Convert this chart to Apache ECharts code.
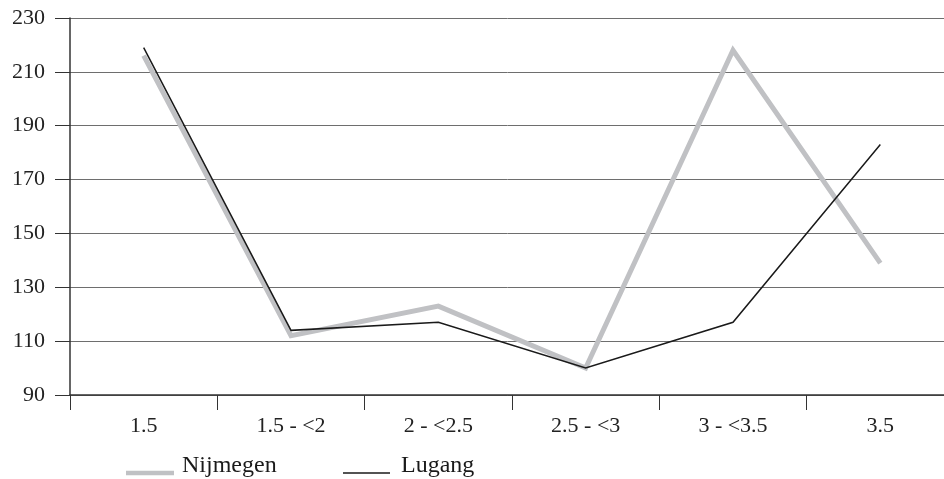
<!DOCTYPE html>
<html>
<head>
<meta charset="utf-8">
<script src="https://cdn.jsdelivr.net/npm/echarts@6/dist/echarts.min.js"></script>
<style>
  html, body { margin: 0; padding: 0; background: #fff; }
  #chart { width: 944px; height: 479px; }
</style>
</head>
<body>
<div id="chart"></div>
<script>
// Size classes along the category axis
const categories = ['1.5', '1.5 - <2', '2 - <2.5', '2.5 - <3', '3 - <3.5', '3.5'];
// Values per city
const nijmegen = [216, 112, 123, 100, 218, 139];
const lugang = [219, 114, 117, 100, 117, 183];
// Value axis range
const yMin = 90, yMax = 230, yStep = 20;

const font = '"Liberation Serif", "DejaVu Serif", serif';

// legend text sits slightly above its key line
function legendText(leftPad) {
  return {
    fontFamily: font, fontSize: 24, color: '#1a1a1a',
    rich: { t: { fontFamily: font, fontSize: 24, color: '#1a1a1a', padding: [0, 0, 14, leftPad] } }
  };
}

const chart = echarts.init(document.getElementById('chart'));
chart.setOption({
  animation: false,
  textStyle: { fontFamily: font },
  // plot area runs a little past the right edge of the canvas
  grid: { left: 70, top: 18, height: 377, width: 884, outerBoundsMode: 'none', containLabel: false },
  legend: [
    {
      left: 126, top: 454, padding: 0,
      icon: 'rect', itemWidth: 48, itemHeight: 4.5,
      itemStyle: { color: '#c0c1c4' },
      formatter: '{t|{name}}',
      textStyle: legendText(3),
      data: ['Nijmegen']
    },
    {
      left: 343, top: 454, padding: 0,
      icon: 'rect', itemWidth: 47, itemHeight: 1.5,
      itemStyle: { color: '#1a1a1a' },
      formatter: '{t|{name}}',
      textStyle: legendText(6),
      data: ['Lugang']
    }
  ],
  xAxis: {
    type: 'category',
    data: categories,
    boundaryGap: true,
    axisLine: { lineStyle: { color: '#333', width: 1.5 } },
    axisTick: { show: true, length: 15, lineStyle: { color: '#333', width: 1 } },
    axisLabel: { fontFamily: font, fontSize: 22, color: '#222', margin: 20 }
  },
  yAxis: {
    type: 'value',
    min: yMin,
    max: yMax,
    interval: yStep,
    axisLine: { show: true, lineStyle: { color: '#333', width: 1.5 } },
    axisTick: { show: true, length: 15, lineStyle: { color: '#333', width: 1 } },
    axisLabel: { fontFamily: font, fontSize: 22, color: '#222', margin: 25 },
    splitLine: { show: true, lineStyle: { color: '#6e6e6e', width: 1 } }
  },
  series: [
    {
      name: 'Nijmegen',
      type: 'line',
      data: nijmegen,
      symbol: 'none',
      z: 2,
      color: '#c0c1c4',
      lineStyle: { color: '#c0c1c4', width: 5, join: 'miter' }
    },
    {
      name: 'Lugang',
      type: 'line',
      data: lugang,
      symbol: 'none',
      z: 3,
      color: '#1a1a1a',
      lineStyle: { color: '#1a1a1a', width: 1.5, join: 'miter' }
    }
  ]
});
</script>
</body>
</html>
